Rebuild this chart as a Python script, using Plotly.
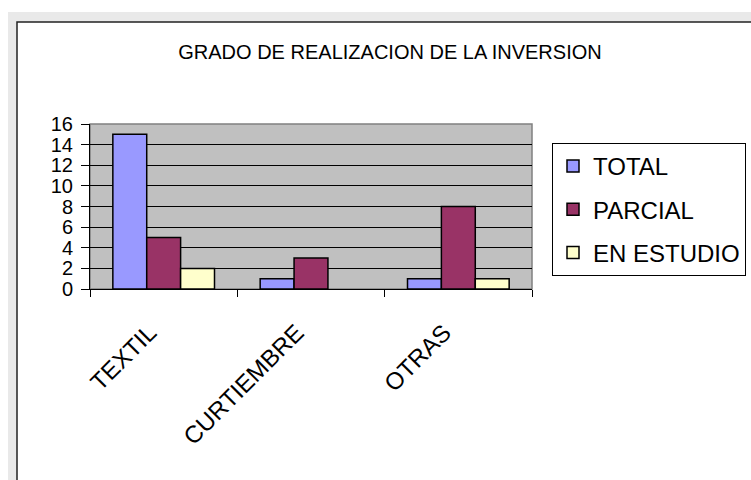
import plotly.graph_objects as go

categories = ["TEXTIL", "CURTIEMBRE", "OTRAS"]
series_names = ["TOTAL", "PARCIAL", "EN ESTUDIO"]
total = [15, 1, 1]
parcial = [5, 3, 8]
en_estudio = [2, None, 1]
colors = ["#9999FF", "#993366", "#FFFFCC"]
y_ticks = [0, 2, 4, 6, 8, 10, 12, 14, 16]

FONT = "Liberation Sans, Arial, sans-serif"
W, H = 751, 480
L, R, T, B = 90, 532, 124, 289


def px(xp):
    return (xp - L) / (R - L)


def py(yp):
    return (B - yp) / (B - T)


fig = go.Figure()
for i, (name, vals) in enumerate(zip(series_names, [total, parcial, en_estudio])):
    fig.add_trace(go.Bar(
        x=categories, y=vals, name=name,
        marker=dict(color=colors[i], line=dict(color="black", width=1.5)),
        legendgroup=name,
    ))

fig.update_layout(
    width=W, height=H,
    margin=dict(l=L, r=W - R, t=T, b=H - B, autoexpand=False),
    paper_bgcolor="white",
    plot_bgcolor="#C0C0C0",
    barmode="group",
    bargap=0.31,
    bargroupgap=0,
    font=dict(family=FONT, color="black"),
    title=dict(
        text="GRADO DE REALIZACION DE LA INVERSION",
        x=390 / W, xanchor="center", xref="container",
        y=1 - 52 / H, yanchor="middle", yref="container",
        font=dict(family=FONT, size=20, color="black"),
    ),
    legend=dict(
        x=px(552), y=py(143), xanchor="left", yanchor="top",
        bgcolor="white", bordercolor="black", borderwidth=1,
        font=dict(family=FONT, size=24, color="black"),
        tracegroupgap=9,
        traceorder="grouped",
        itemwidth=30,
    ),
    showlegend=True,
    shapes=[
        dict(type="rect", xref="paper", yref="paper",
             x0=px(8), x1=px(W + 5), y0=py(H + 5), y1=py(12),
             fillcolor="#E9E9E9", line=dict(width=0), layer="below"),
        dict(type="rect", xref="paper", yref="paper",
             x0=px(17), x1=px(W + 5), y0=py(H + 5), y1=py(22),
             fillcolor="white", line=dict(color="#222222", width=1.5), layer="below"),
        dict(type="rect", xref="paper", yref="paper",
             x0=0, x1=1, y0=0, y1=1,
             fillcolor="#C0C0C0", line=dict(color="#808080", width=1.5), layer="below"),
    ],
)

fig.update_xaxes(
    type="category",
    tickson="boundaries",
    tickvals=categories,
    ticktext=[c + "\u00a0\u00a0\u00a0" for c in categories],
    ticks="outside", ticklen=7, tickcolor="black", tickwidth=1,
    showline=True, linecolor="black", linewidth=1,
    tickangle=-45,
    tickfont=dict(family=FONT, size=24, color="black"),
    ticklabelstandoff=5,
    showgrid=False,
)
fig.update_yaxes(
    range=[0, 16],
    tickvals=y_ticks,
    ticktext=[str(v) for v in y_ticks],
    ticks="outside", ticklen=8, tickcolor="black", tickwidth=1,
    showline=True, linecolor="black", linewidth=1,
    showgrid=True, gridcolor="black", gridwidth=1,
    zeroline=False,
    tickfont=dict(family=FONT, size=20, color="black"),
    ticklabelstandoff=4,
)

fig.write_html("out.html", config={"displayModeBar": False},
               post_script="document.body.style.margin='0px';")
